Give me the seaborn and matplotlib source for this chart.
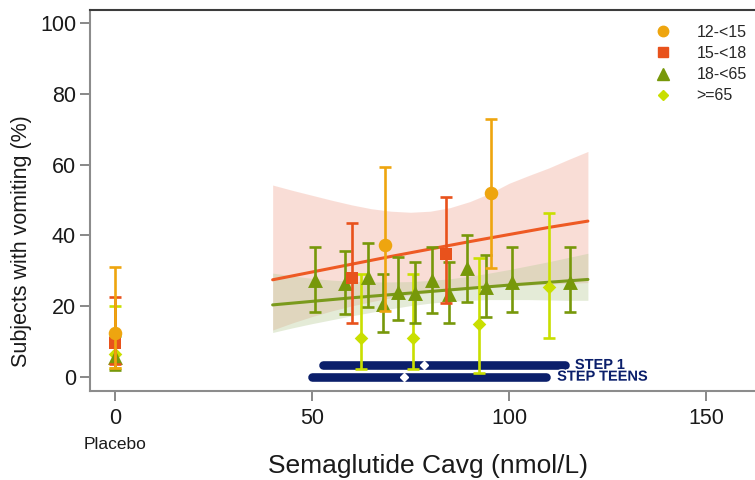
import numpy as np
import pandas as pd
import matplotlib
matplotlib.use("Agg")
import matplotlib.pyplot as plt
import matplotlib.patheffects as pe
from matplotlib.lines import Line2D
import seaborn as sns

sns.set_theme(style="ticks")
plt.rcParams["font.family"] = ["Liberation Sans", "DejaVu Sans"]

# ---- observed proportions by age group (x = Cavg, nmol/L; y = % vomiting) ----
age_groups = ["12-<15", "15-<18", "18-<65", ">=65"]

x_1215 = [0, 68.4, 95.4]
y_1215 = [12.3, 37.3, 51.9]
lo_1215 = [2.4, 18.7, 30.7]
hi_1215 = [31.1, 59.4, 72.9]

x_1518 = [0, 60.1, 83.9]
y_1518 = [9.4, 27.8, 34.7]
lo_1518 = [3.5, 15.3, 20.9]
hi_1518 = [22.6, 43.6, 50.7]

x_1865 = [0, 50.8, 58.4, 64.3, 67.9, 71.9, 76.1, 80.5, 84.8, 89.4, 94.2, 100.7, 115.5]
y_1865 = [5.5, 27.4, 26.4, 28.3, 20.6, 24.0, 23.6, 27.4, 23.4, 30.7, 25.5, 26.9, 26.9]
lo_1865 = [2.0, 18.4, 17.7, 19.8, 12.6, 16.0, 15.1, 18.1, 15.3, 21.2, 17.0, 18.4, 18.4]
hi_1865 = [11.5, 36.6, 35.6, 37.7, 29.0, 33.8, 32.4, 36.6, 32.3, 40.1, 34.4, 36.6, 36.6]

x_65 = [0, 62.4, 75.7, 92.4, 110.0]
y_65 = [6.5, 10.9, 11.0, 14.8, 25.5]
lo_65 = [2.4, 2.1, 2.1, 1.0, 11.0]
hi_65 = [20.0, 29.1, 29.1, 33.7, 46.2]

# ---- model predictions ----
fit_x = [40, 50, 60, 70, 80, 90, 100, 110, 120]
adol_fit = [27.4, 29.6, 31.8, 34.0, 36.1, 38.2, 40.2, 42.2, 44.0]
adult_fit = [20.3, 21.3, 22.3, 23.2, 24.1, 25.0, 25.9, 26.7, 27.5]

# ---- 95% prediction bands ----
band_x = [40, 45, 50, 55, 60, 65, 70, 75, 80, 85, 90, 95, 100, 105, 110, 115, 120]
adol_hi = [54.2, 52.7, 51.3, 49.9, 48.6, 47.5, 46.8, 46.5, 46.8, 47.8, 49.5, 51.8,
           54.7, 56.9, 59.0, 61.4, 63.7]
adol_lo = [13.2, 15.2, 17.0, 18.6, 20.0, 21.2, 22.3, 23.1, 23.8, 24.3, 24.8, 25.2,
           25.6, 25.9, 26.2, 26.4, 26.6]
adult_hi = [29.3, 28.5, 27.8, 27.3, 27.0, 26.8, 26.8, 26.9, 27.2, 27.7, 28.4, 29.3,
            30.3, 31.4, 32.5, 33.7, 34.9]
adult_lo = [12.5, 13.8, 15.0, 16.1, 17.2, 18.2, 19.2, 20.1, 20.8, 21.3, 21.6, 21.8,
            21.8, 21.8, 21.7, 21.6, 21.6]

# ---- exposure ranges (5th-95th percentile) and medians ----
trials = ["STEP 1", "STEP TEENS"]
trial_lo = [52.7, 50.1]
trial_hi = [114.1, 109.3]
trial_median = [78.4, 73.4]
trial_y = [3.3, 0.0]

colors = {"12-<15": "#eea50f", "15-<18": "#e8521c", "18-<65": "#77980a", ">=65": "#c9df00"}
markers = {"12-<15": "o", "15-<18": "s", "18-<65": "^", ">=65": "D"}
msize = {"12-<15": 95, "15-<18": 66, "18-<65": 115, ">=65": 48}
navy = "#0b1f6b"
ink = "#1a1a1a"

fig = plt.figure(figsize=(7.55, 4.80), dpi=100)
ax = fig.add_axes([90 / 755, 89 / 480, 665 / 755, 381 / 480])

# confidence bands and fitted curves
ax.fill_between(band_x, adol_lo, adol_hi, color="#f0a08c", alpha=0.35, lw=0, zorder=1)
ax.fill_between(band_x, adult_lo, adult_hi, color="#b8cc98", alpha=0.38, lw=0, zorder=1)
fits = pd.DataFrame({
    "x": fit_x * 2,
    "y": adol_fit + adult_fit,
    "model": ["adolescent"] * len(fit_x) + ["adult"] * len(fit_x),
})
sns.lineplot(data=fits, x="x", y="y", hue="model",
             palette={"adolescent": "#ee5a24", "adult": "#7a9a1c"},
             lw=2.2, legend=False, ax=ax, zorder=2)

# exposure ranges
for lo, hi, med, yy, name, dx in zip(trial_lo, trial_hi, trial_median, trial_y, trials, [2.6, 2.9]):
    ax.plot([lo, hi], [yy, yy], color=navy, lw=6.2, solid_capstyle="round", zorder=3)
    ax.plot([med], [yy], marker="D", ms=4.5, color="white", mec="white", zorder=4)
    ax.text(hi + dx, yy, name, color=navy, fontsize=10.5, fontweight="bold",
            va="center", ha="left",
            path_effects=[pe.withStroke(linewidth=2, foreground="white")], zorder=4)

# observed data with 95% CIs
obs = {
    ">=65": (x_65, y_65, lo_65, hi_65),
    "18-<65": (x_1865, y_1865, lo_1865, hi_1865),
    "15-<18": (x_1518, y_1518, lo_1518, hi_1518),
    "12-<15": (x_1215, y_1215, lo_1215, hi_1215),
}
z = 5
for grp, (xs, ys, los, his) in obs.items():
    xs, ys, los, his = map(np.asarray, (xs, ys, los, his))
    ax.errorbar(xs, ys, yerr=[ys - los, his - ys], fmt="none", ecolor=colors[grp],
                elinewidth=1.9, capsize=4.6, capthick=1.9, zorder=z)
    sns.scatterplot(x=xs, y=ys, marker=markers[grp], s=msize[grp], color=colors[grp],
                    linewidth=0, ax=ax, zorder=z + 0.5, legend=False)
    z += 1

# axes styling
ax.set_xlim(-6.35, 162.4)
ax.set_ylim(-4.05, 103.7)
ax.set_xticks([0, 50, 100, 150])
ax.set_yticks([0, 20, 40, 60, 80, 100])
ax.tick_params(axis="both", labelsize=15.5, colors="#7f7f7f", labelcolor=ink,
               length=7, width=1.3, pad=3)
ax.tick_params(axis="x", pad=5)
for side in ("left", "bottom"):
    ax.spines[side].set_color("#8c8c8c")
    ax.spines[side].set_linewidth(1.5)
ax.spines["top"].set_color("#3c3c3c")
ax.spines["top"].set_linewidth(1.5)
ax.spines["right"].set_visible(False)
ax.set_xlabel("")
ax.set_ylabel("")
fig.text(428 / 755, 1 - 466 / 480, "Semaglutide Cavg (nmol/L)", fontsize=19,
         color=ink, ha="center", va="center")
fig.text(22 / 755, 1 - 241 / 480, "Subjects with vomiting (%)", fontsize=15.5,
         color=ink, ha="center", va="center", rotation=90)
ax.text(0, -0.14, "Placebo", transform=ax.get_xaxis_transform(), ha="center",
        va="center", fontsize=12.5, color=ink)

# legend
handles = [Line2D([], [], ls="none", marker=markers[g], color=colors[g],
                  ms={"12-<15": 7.5, "15-<18": 7, "18-<65": 8, ">=65": 5}[g])
           for g in age_groups]
ax.legend(handles, age_groups, loc="upper left", bbox_to_anchor=(647 / 755, 1 - 25 / 480),
          bbox_transform=fig.transFigure, frameon=False, fontsize=11.5,
          handlelength=2.0, handletextpad=1.1, labelspacing=0.38,
          borderaxespad=0, borderpad=0)

fig.savefig("out.png", dpi=100)
